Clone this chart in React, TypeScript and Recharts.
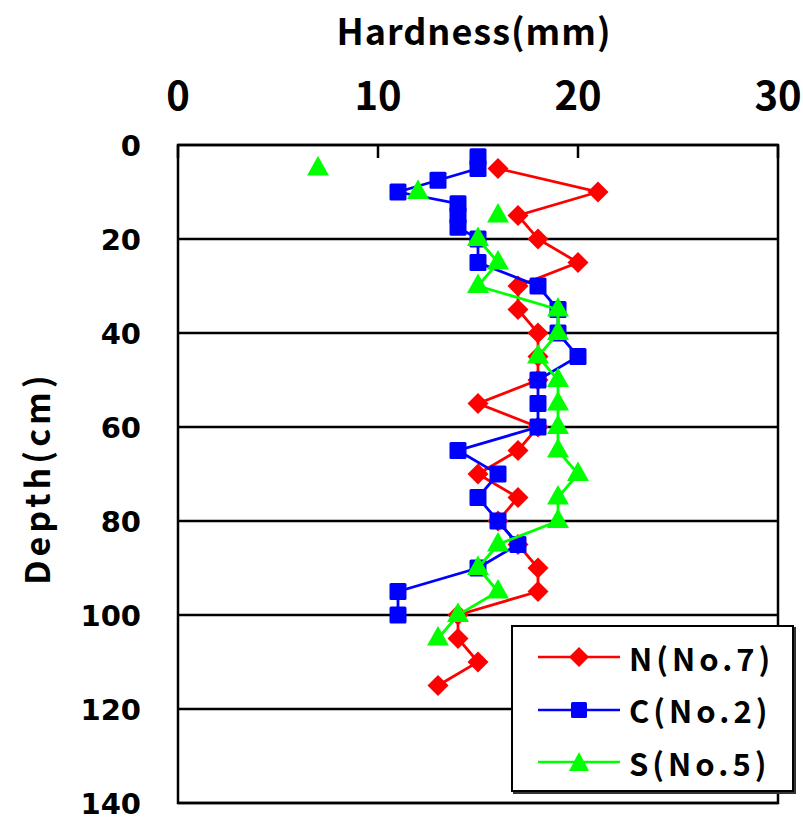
import { ScatterChart, Scatter, XAxis, YAxis, CartesianGrid, ReferenceArea, Label } from 'recharts'

// depth (cm) and hardness (mm)
const depthN = [5, 10, 15, 20, 25, 30, 35, 40, 45, 50, 55, 60, 65, 70, 75, 80, 85, 90, 95, 100, 105, 110, 115]
const hardN = [16, 21, 17, 18, 20, 17, 17, 18, 18, 18, 15, 18, 17, 15, 17, 16, 17, 18, 18, 14, 14, 15, 13]

const depthC = [2.5, 5, 7.5, 10, 12.5, 15, 17.5, 20, 25, 30, 35, 40, 45, 50, 55, 60, 65, 70, 75, 80, 85, 90, 95, 100]
const hardC = [15, 15, 13, 11, 14, 14, 14, 15, 15, 18, 19, 19, 20, 18, 18, 18, 14, 16, 15, 16, 17, 15, 11, 11]

// first three S readings stand alone (no line through them)
const depthS0 = [5, 10, 15]
const hardS0 = [7, 12, 16]
const depthS = [20, 25, 30, 35, 40, 45, 50, 55, 60, 65, 70, 75, 80, 85, 90, 95, 100, 105]
const hardS = [15, 16, 15, 19, 19, 18, 19, 19, 19, 19, 20, 19, 19, 16, 15, 16, 14, 13]

const xTicks = [0, 10, 20, 30]
const yTicks = [0, 20, 40, 60, 80, 100, 120, 140]

const legendItems = [
  { name: 'N(No.7)', color: '#ff0000', kind: 'diamond' },
  { name: 'C(No.2)', color: '#0000ff', kind: 'square' },
  { name: 'S(No.5)', color: '#00ff00', kind: 'triangle' },
]

const toPts = (d: number[], h: number[]) => d.map((y, i) => ({ x: h[i], y }))

const PLOT_TOP = 145
const FONT = '"Noto Sans CJK JP", "DejaVu Sans", sans-serif'

const Diamond = (p: any) => {
  const { cx, cy } = p
  const r = 10.5
  return <polygon points={`${cx},${cy - r} ${cx + r},${cy} ${cx},${cy + r} ${cx - r},${cy}`} fill="#ff0000" />
}
const Square = (p: any) => {
  const { cx, cy } = p
  return <rect x={cx - 8.5} y={cy - 8.5} width={17} height={17} rx={1.5} fill="#0000ff" />
}
const Triangle = (p: any) => {
  const { cx, cy } = p
  return <polygon points={`${cx},${cy - 12.5} ${cx + 11},${cy + 7} ${cx - 11},${cy + 7}`} fill="#00ff00" />
}

const TopTick = ({ x, payload }: any) => (
  <g>
    <line x1={x} x2={x} y1={PLOT_TOP} y2={PLOT_TOP + 13} stroke="#000" strokeWidth={2.5} />
    <text x={x} y={110} textAnchor="middle" fontFamily={FONT} fontWeight="bold" fontSize={40} fill="#000">
      {payload.value}
    </text>
  </g>
)

const LeftTick = ({ y, payload }: any) => (
  <text x={141} y={y + 11} textAnchor="end" fontFamily='"DejaVu Sans", sans-serif' fontWeight="bold" fontSize={29} fill="#000">
    {payload.value}
  </text>
)

const Icon = ({ kind, color }: { kind: string; color: string }) => (
  <svg width={82} height={24} style={{ display: 'block' }}>
    <line x1={0} x2={82} y1={12} y2={12} stroke={color} strokeWidth={2.5} />
    {kind === 'diamond' && <polygon points="41,2 51,12 41,22 31,12" fill={color} />}
    {kind === 'square' && <rect x={33} y={4} width={16} height={16} rx={1.5} fill={color} />}
    {kind === 'triangle' && <polygon points="41,2 51,21 31,21" fill={color} />}
  </svg>
)

const LegendBox = () => (
  <div
    style={{
      position: 'absolute',
      left: 511,
      top: 625,
      width: 283,
      height: 167,
      boxSizing: 'border-box',
      border: '2.5px solid #000',
      boxShadow: '2px 2px 0 #333',
      background: '#fff',
      paddingTop: 4,
    }}
  >
    {legendItems.map((it) => (
      <div key={it.name} style={{ display: 'flex', alignItems: 'center', height: 52.5, paddingLeft: 25 }}>
        <Icon kind={it.kind} color={it.color} />
        <span style={{ marginLeft: 9, fontFamily: FONT, fontWeight: 'bold', fontSize: 31, color: '#000', letterSpacing: 4, lineHeight: 1 }}>
          {it.name}
        </span>
      </div>
    ))}
  </div>
)

export default function App() {
  return (
    <div style={{ position: 'absolute', left: 0, top: 0, width: 803, height: 820, background: '#fff' }}>
      <ScatterChart width={803} height={820} margin={{ top: 85, left: 78, right: 25, bottom: 17 }}>
        <CartesianGrid horizontal vertical={false} stroke="#000" strokeWidth={2.5} />
        <XAxis
          type="number"
          dataKey="x"
          orientation="top"
          domain={[0, 30]}
          ticks={xTicks}
          height={60}
          axisLine={false}
          tickLine={false}
          tick={<TopTick />}
          interval={0}
        >
          <Label
            content={() => (
              <text x={474} y={45} textAnchor="middle" fontFamily={FONT} fontWeight="bold" fontSize={36} letterSpacing={1} fill="#000">
                Hardness(mm)
              </text>
            )}
          />
        </XAxis>
        <YAxis
          type="number"
          dataKey="y"
          domain={[0, 140]}
          reversed
          ticks={yTicks}
          width={100}
          axisLine={false}
          tickLine={false}
          tick={<LeftTick />}
          interval={0}
        >
          <Label
            content={() => (
              <text
                x={35}
                y={478}
                transform="rotate(-90 35 478)"
                textAnchor="middle"
                dominantBaseline="central"
                fontFamily={FONT}
                fontWeight="bold"
                fontSize={34}
                letterSpacing={4}
                fill="#000"
              >
                Depth(cm)
              </text>
            )}
          />
        </YAxis>
        <ReferenceArea x1={0} x2={30} y1={0} y2={140} fill="none" stroke="#000" strokeWidth={2.5} />
        <Scatter
          name="N(No.7)"
          data={toPts(depthN, hardN)}
          line={{ stroke: '#ff0000', strokeWidth: 2.8 }}
          lineType="joint"
          shape={Diamond}
          isAnimationActive={false}
        />
        <Scatter
          name="C(No.2)"
          data={toPts(depthC, hardC)}
          line={{ stroke: '#0000ff', strokeWidth: 2.8 }}
          lineType="joint"
          shape={Square}
          isAnimationActive={false}
        />
        <Scatter name="S(No.5) a" data={toPts(depthS0, hardS0)} shape={Triangle} isAnimationActive={false} />
        <Scatter
          name="S(No.5)"
          data={toPts(depthS, hardS)}
          line={{ stroke: '#00ff00', strokeWidth: 2.8 }}
          lineType="joint"
          shape={Triangle}
          isAnimationActive={false}
        />
      </ScatterChart>
      <LegendBox />
    </div>
  )
}
